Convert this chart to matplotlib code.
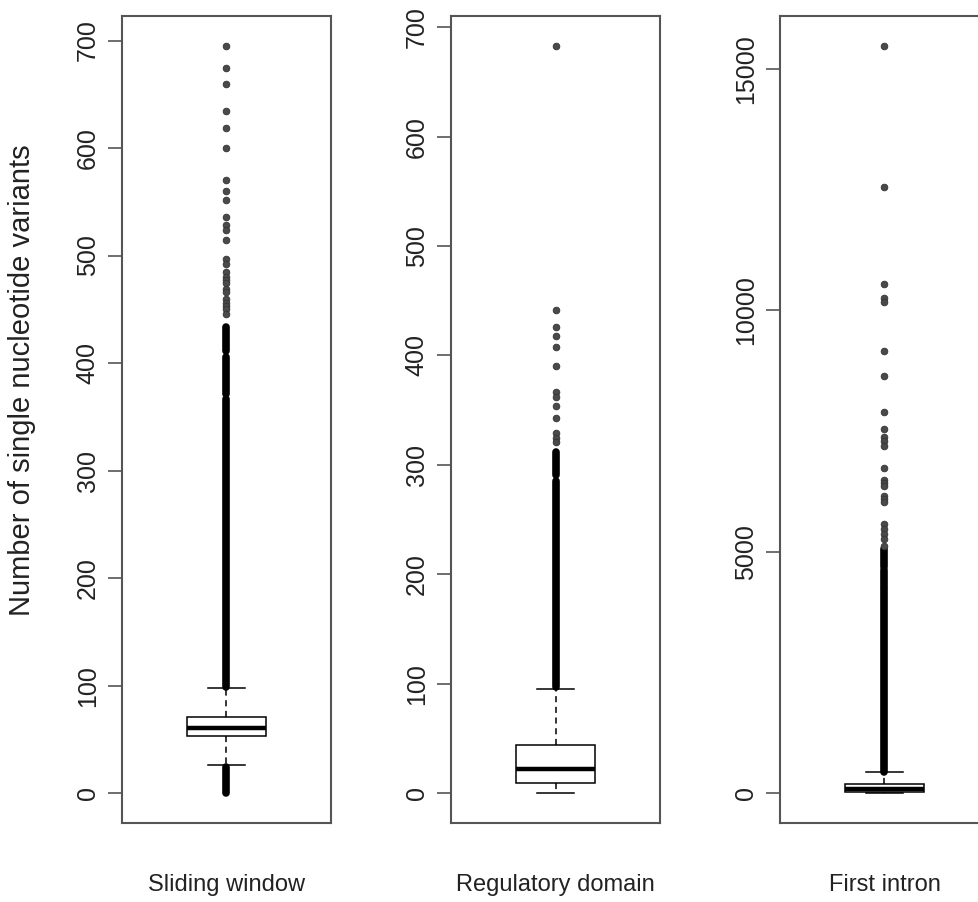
#!/usr/bin/env python
"""Boxplots of single nucleotide variant counts for three region definitions."""

import matplotlib

matplotlib.use("Agg")
import matplotlib.pyplot as plt  # noqa: E402

plt.rcParams["font.family"] = ["Liberation Sans", "DejaVu Sans"]

GROUPS = ["Sliding window", "Regulatory domain", "First intron"]

# five-number summaries per group
WHISLO = [26, 0, 0]
Q1 = [53, 9, 25]
MEDIAN = [61, 22, 93]
Q3 = [71, 44, 197]
WHISHI = [98, 95, 439]

# isolated outliers
SLIDING_OUTLIERS = [695, 674, 660, 634, 619, 600, 570, 560, 552, 536, 528,
                    524, 514, 497, 492, 485, 480, 477, 474, 469, 466, 460,
                    456, 453, 450, 446]
REGULATORY_OUTLIERS = [683, 442, 426, 418, 408, 390, 367, 362, 354, 343,
                       329, 325, 321]
INTRON_OUTLIERS = [15482, 12551, 10549, 10253, 10170, 9168, 8638, 7892, 7547,
                   7375, 7290, 7201, 6739, 6497, 6435, 6373, 6166, 6100, 6029,
                   5580, 5480, 5373, 5269, 5130]

# outlier stretches so crowded the points merge into a solid bar: (low, high)
SLIDING_RUNS = [(0, 24), (99, 367), (371, 406), (411, 434)]
REGULATORY_RUNS = [(97, 285), (291, 312)]
INTRON_RUNS = [(440, 4234), (4269, 4613), (4689, 5062)]

YTICKS = [
    [0, 100, 200, 300, 400, 500, 600, 700],
    [0, 100, 200, 300, 400, 500, 600, 700],
    [0, 5000, 10000, 15000],
]

OUTLIERS = [SLIDING_OUTLIERS, REGULATORY_OUTLIERS, INTRON_OUTLIERS]
RUNS = [SLIDING_RUNS, REGULATORY_RUNS, INTRON_RUNS]

FRAME = "#555555"
TEXT = "#222222"

W, H = 979, 902
fig = plt.figure(figsize=(W / 100, H / 100), dpi=100)

for i, name in enumerate(GROUPS):
    left = 122 + 329 * i
    ax = fig.add_axes([left / W, 79 / H, 209 / W, 807 / H])

    stats = [{
        "whislo": WHISLO[i], "q1": Q1[i], "med": MEDIAN[i],
        "q3": Q3[i], "whishi": WHISHI[i], "fliers": [],
    }]
    ax.bxp(
        stats, positions=[1], widths=0.378, capwidths=0.18,
        showfliers=False, patch_artist=True,
        boxprops=dict(facecolor="white", edgecolor="black", linewidth=1.1),
        medianprops=dict(color="black", linewidth=3.2, solid_capstyle="butt"),
        whiskerprops=dict(color="black", linewidth=1.1, linestyle=(0, (4, 3))),
        capprops=dict(color="black", linewidth=1.1),
        zorder=3,
    )

    lows = [lo for lo, hi in RUNS[i]]
    highs = [hi for lo, hi in RUNS[i]]
    ax.vlines([1] * len(lows), lows, highs, colors="black", linewidth=5.5,
              capstyle="round", zorder=2)
    ax.plot([1] * len(OUTLIERS[i]), OUTLIERS[i], linestyle="none",
            marker="o", markersize=4.8, markerfacecolor="#4a4a4a",
            markeredgecolor="#333333", markeredgewidth=0.6, zorder=2)

    # R-style range padding of 4% on each side
    values = OUTLIERS[i] + lows + highs + [WHISLO[i], WHISHI[i]]
    lo, hi = min(values), max(values)
    pad = 0.04 * (hi - lo)
    ax.set_ylim(lo - pad, hi + pad)
    ax.set_xlim(0.5, 1.5)

    ax.set_xticks([])
    ax.set_yticks(YTICKS[i])
    ax.set_yticklabels([str(t) for t in YTICKS[i]])
    ax.tick_params(axis="y", length=10, width=1.2, color=FRAME, pad=6,
                   labelsize=18, labelcolor=TEXT, labelrotation=90)
    for lab in ax.get_yticklabels():
        lab.set_verticalalignment("center")
    for spine in ax.spines.values():
        spine.set_color(FRAME)
        spine.set_linewidth(1.5)

    fig.text((left + 104.5) / W, 1 - 885 / H, name, ha="center", va="center",
             fontsize=17, color=TEXT)

fig.text(22 / W, 1 - 380 / H, "Number of single nucleotide variants",
         rotation=90, ha="center", va="center", fontsize=21, color=TEXT)

fig.savefig("out.png", dpi=100)
